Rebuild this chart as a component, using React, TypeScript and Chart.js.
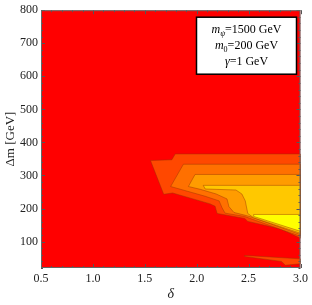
import React, { useEffect, useRef } from "react";
import { Chart, registerables } from "chart.js";
Chart.register(...registerables);

// axis ranges and tick labels
const xRange = [0.5, 3.0];
const yRange = [20, 800];
const xTicks = [0.5, 1.0, 1.5, 2.0, 2.5, 3.0];
const yTicks = [100, 200, 300, 400, 500, 600, 700, 800];

// contour level polygons (delta, Delta m)
const bgX = [0.5, 3.0, 3.0, 0.5];
const bgY = [20, 20, 800, 800];

const level1X = [1.793, 3.0, 3.0, 2.807, 2.492, 2.463, 2.197, 2.177, 2.13, 1.768, 1.682, 1.555, 1.761];
const level1Y = [365, 365, 110, 138.5, 161, 170, 185, 207, 214, 247, 243, 345, 347.5];

const sliverX = [2.461, 3.0, 3.0, 2.854, 2.816, 2.461];
const sliverY = [58, 47.7, 32.8, 28.4, 40, 55];

const level2X = [1.872, 3.0, 3.0, 2.54, 2.461, 2.273, 2.244, 2.216, 2.082, 1.749];
const level2Y = [334, 334, 116, 167, 176, 186, 202.5, 223, 237, 266.5];

const level3X = [1.984, 3.0, 3.0, 2.54, 2.461, 2.359, 2.311, 2.292, 2.187, 2.035, 1.92];
const level3Y = [303, 303, 121, 173, 180, 188, 205.5, 229, 244, 258, 266.5];

const level4X = [2.063, 3.0, 3.0, 2.549, 2.492, 2.468, 2.435, 2.378, 2.082];
const level4Y = [270, 270, 125, 172, 185, 223, 244, 256, 259];

const level5X = [2.549, 3.0, 3.0, 2.549];
const level5Y = [182, 182, 131, 176];

const levelColors = ["#FF0000", "#FF4800", "#FF7000", "#FF9C00", "#FFC800", "#FFFF00"];

const legendLines = [
  [{ t: "m", i: true }, { t: "ψ", i: true, sub: true }, { t: "=1500 GeV" }],
  [{ t: "m", i: true }, { t: "0", sub: true }, { t: "=200 GeV" }],
  [{ t: "γ", i: true }, { t: "=1 GeV" }],
];

const SERIF = "'Liberation Serif', 'Times New Roman', serif";

function poly(xs: number[], ys: number[]) {
  const pts = xs.map((x, k) => ({ x, y: ys[k] }));
  pts.push({ x: xs[0], y: ys[0] });
  return pts;
}

function ds(pts: any[], color: string, line = true) {
  return {
    data: pts,
    showLine: true,
    fill: "shape",
    backgroundColor: color,
    borderColor: line ? "rgba(150,50,0,0.55)" : color,
    borderWidth: line ? 0.8 : 0,
    pointRadius: 0,
    tension: 0,
  };
}

const framePlugin = {
  id: "frameTicks",
  afterDraw(chart: any) {
    const { ctx, chartArea: a, scales } = chart;
    const xs = scales.x, ys = scales.y;
    ctx.save();
    ctx.strokeStyle = "#555";
    ctx.lineWidth = 1;
    ctx.beginPath();
    for (let v = xRange[0]; v <= xRange[1] + 1e-9; v += 0.1) {
      const major = xTicks.some((t) => Math.abs(t - v) < 1e-6);
      const len = major ? 4 : 2;
      const px = Math.round(xs.getPixelForValue(v)) + 0.5;
      ctx.moveTo(px, a.bottom); ctx.lineTo(px, a.bottom - len);
      ctx.moveTo(px, a.top); ctx.lineTo(px, a.top + len);
    }
    for (let v = 20; v <= yRange[1] + 1e-9; v += 20) {
      const major = yTicks.includes(v);
      const len = major ? 4 : 2;
      const py = Math.round(ys.getPixelForValue(v)) + 0.5;
      ctx.moveTo(a.left, py); ctx.lineTo(a.left + len, py);
      ctx.moveTo(a.right, py); ctx.lineTo(a.right - len, py);
    }
    ctx.stroke();
    ctx.strokeStyle = "#666";
    ctx.strokeRect(a.left + 0.5, a.top + 0.5, a.right - a.left - 1, a.bottom - a.top - 1);

    // legend box
    const bw = 100, bh = 57;
    const bx = a.right - 4 - bw, by = a.top + 7;
    ctx.fillStyle = "#fff";
    ctx.fillRect(bx, by, bw, bh);
    ctx.strokeStyle = "#000";
    ctx.lineWidth = 1.5;
    ctx.strokeRect(bx, by, bw, bh);
    const fs = 12;
    const fontFor = (s: any) =>
      `${s.i ? "italic " : ""}${s.sub ? Math.round(fs * 0.7) : fs}px ${SERIF}`;
    ctx.fillStyle = "#000";
    ctx.textBaseline = "alphabetic";
    ctx.textAlign = "left";
    legendLines.forEach((segs: any[], li) => {
      let w = 0;
      segs.forEach((s) => { ctx.font = fontFor(s); w += ctx.measureText(s.t).width; });
      let cx = bx + bw / 2 - w / 2;
      const base = by + 16 + li * 16;
      segs.forEach((s) => {
        ctx.font = fontFor(s);
        ctx.fillText(s.t, cx, base + (s.sub ? 3 : 0));
        cx += ctx.measureText(s.t).width;
      });
    });
    ctx.restore();
  },
};

export default function App() {
  const ref = useRef<HTMLCanvasElement>(null);
  useEffect(() => {
    if (!ref.current) return;
    const chart = new Chart(ref.current, {
      type: "scatter",
      data: {
        datasets: [
          ds(poly(level5X, level5Y), levelColors[5]),
          ds(poly(level4X, level4Y), levelColors[4]),
          ds(poly(level3X, level3Y), levelColors[3]),
          ds(poly(level2X, level2Y), levelColors[2]),
          ds(poly(sliverX, sliverY), levelColors[1]),
          ds(poly(level1X, level1Y), levelColors[1]),
          ds(poly(bgX, bgY), levelColors[0], false),
        ] as any,
      },
      options: {
        animation: false,
        responsive: false,
        events: [],
        layout: { padding: { top: 6, right: 9, left: 0, bottom: 0 } },
        plugins: { legend: { display: false }, tooltip: { enabled: false } },
        scales: {
          x: {
            type: "linear",
            min: xRange[0],
            max: xRange[1],
            grid: { display: false, drawTicks: false, tickLength: 0 },
            border: { display: false },
            afterBuildTicks: (s: any) => { s.ticks = xTicks.map((v) => ({ value: v })); },
            afterFit: (s: any) => { s.height = 37; },
            ticks: {
              color: "#222",
              font: { family: SERIF, size: 12 },
              padding: 4,
              maxRotation: 0,
              callback: (v: any) => Number(v).toFixed(1),
            },
            title: {
              display: true,
              text: "δ",
              color: "#222",
              font: { family: SERIF, size: 14, style: "italic" },
              padding: { top: 0, bottom: 2 },
            },
          },
          y: {
            type: "linear",
            min: yRange[0],
            max: yRange[1],
            grid: { display: false, drawTicks: false, tickLength: 0 },
            border: { display: false },
            afterBuildTicks: (s: any) => { s.ticks = yTicks.map((v) => ({ value: v })); },
            afterFit: (s: any) => { s.width = 41; },
            ticks: {
              color: "#222",
              font: { family: SERIF, size: 12 },
              padding: 3,
              callback: (v: any) => String(v),
            },
            title: {
              display: true,
              text: "Δm [GeV]",
              color: "#222",
              font: { family: SERIF, size: 13 },
              padding: { top: 3, bottom: 0 },
            },
          },
        },
      },
      plugins: [framePlugin],
    });
    return () => chart.destroy();
  }, []);
  return (
    <div style={{ position: "fixed", left: 0, top: 0, width: 312, height: 305, background: "#fff" }}>
      <canvas ref={ref} width={312} height={305} style={{ display: "block" }} />
    </div>
  );
}
